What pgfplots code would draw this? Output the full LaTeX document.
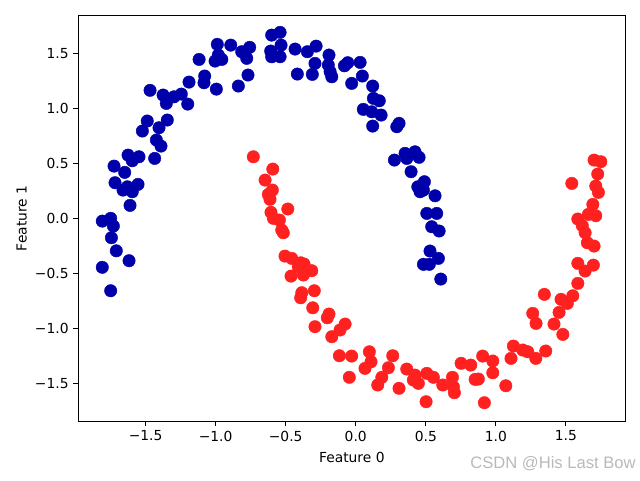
\documentclass[border=0pt]{standalone}
\usepackage{fontspec}
\setmainfont{DejaVu Sans}
\newfontfamily\wmfont{Liberation Sans}
\usepackage{pgfplots}
\pgfplotsset{compat=1.18}
\definecolor{cblue}{HTML}{0000AA}
\definecolor{cred}{HTML}{FF2020}
\begin{document}
\begin{tikzpicture}
\path[use as bounding box] (-56.6pt,-42.6pt) rectangle (405.9pt,304.3pt);
\begin{axis}[
  scale only axis, width=395.3pt, height=292.9pt,
  xmin=-1.980, xmax=1.924, ymin=-1.843, ymax=1.842,
  axis line style={line width=0.8pt},
  tick pos=left, tick align=outside,
  major tick length=3.5pt,
  every tick/.style={black, line width=0.8pt},
  xtick={-1.5,-1,-0.5,0,0.5,1,1.5},
  ytick={-1.5,-1,-0.5,0,0.5,1,1.5},
  xticklabels={−1.5,−1.0,−0.5,0.0,0.5,1.0,1.5},
  yticklabels={−1.5,−1.0,−0.5,0.0,0.5,1.0,1.5},
  ticklabel style={font=\fontsize{10}{12}\selectfont},
  xlabel={Feature 0}, ylabel={Feature 1},
  label style={font=\fontsize{10}{12}\selectfont},
  xlabel style={at={([yshift=-26pt]axis description cs:0.5,0)}, anchor=center},
  ylabel style={at={([xshift=-41pt]axis description cs:0,0.5)}, anchor=center},
  clip=false,
]
\addplot[only marks, mark=*, mark size=4.5pt, mark options={draw=cblue, fill=cblue, line width=0.3pt}] coordinates {
(-0.988,1.582) (-0.892,1.575) (-0.757,1.555) (-0.814,1.515) (-0.778,1.455)
(-0.981,1.485) (-1.004,1.430) (-0.956,1.445) (-1.118,1.445) (-0.769,1.303)
(-0.838,1.203) (-1.078,1.294) (-1.083,1.233) (-0.995,1.175) (-1.190,1.239)
(-1.468,1.164) (-1.375,1.121) (-1.352,1.045) (-1.297,1.105) (-1.245,1.130)
(-1.199,1.039) (-1.345,0.894) (-1.488,0.885) (-1.523,0.794) (-1.404,0.824)
(-1.423,0.712) (-1.390,0.657) (-1.625,0.575) (-1.547,0.560) (-1.435,0.545)
(-1.725,0.475) (-0.600,1.666) (-0.540,1.691) (-0.533,1.575) (-0.607,1.521)
(-0.600,1.469) (-0.540,1.469) (-0.433,1.539) (-0.345,1.515) (-0.283,1.566)
(-0.191,1.485) (-0.291,1.409) (-0.417,1.312) (-0.310,1.309) (-0.196,1.394)
(-0.183,1.333) (-0.171,1.287) (-0.081,1.387) (-0.057,1.415) (0.031,1.418)
(0.047,1.294) (-0.029,1.227) (0.121,1.203) (0.126,1.091) (0.168,1.069)
(0.054,0.991) (0.114,0.969) (0.181,0.939) (0.121,0.839) (0.293,0.833)
(0.309,0.864) (0.276,0.530) (0.352,0.591) (0.364,0.545) (0.423,0.605)
(0.452,0.555) (-1.595,0.524) (-1.649,0.418) (-1.718,0.324) (-1.661,0.257)
(-1.630,0.287) (-1.595,0.242) (-1.554,0.309) (-1.611,0.118) (-1.809,-0.025)
(-1.749,0.000) (-1.730,-0.070) (-1.744,-0.176) (-1.709,-0.295) (-1.618,-0.385)
(-1.809,-0.445) (-1.749,-0.658) (0.395,0.424) (0.490,0.333) (0.443,0.287)
(0.459,0.242) (0.483,0.257) (0.566,0.205) (0.507,0.045) (0.578,0.045)
(0.542,-0.076) (0.595,-0.115) (0.530,-0.297) (0.590,-0.364) (0.483,-0.418)
(0.525,-0.418) (0.607,-0.552)
};
\addplot[only marks, mark=*, mark size=4.5pt, mark options={draw=cred, fill=cred, line width=0.3pt}] coordinates {
(-0.731,0.560) (-0.592,0.448) (-0.647,0.348) (-0.595,0.257) (-0.624,0.218)
(-0.612,0.173) (-0.485,0.085) (-0.605,0.055) (-0.588,0.000) (-0.545,-0.015)
(-0.528,-0.106) (-0.517,-0.131) (-0.505,-0.343) (-0.457,-0.364) (-0.393,-0.404)
(-0.369,-0.415) (-0.410,-0.440) (-0.314,-0.476) (-0.462,-0.525) (-0.374,-0.515)
(-0.296,-0.658) (-0.385,-0.676) (-0.393,-0.722) (-0.307,-0.813) (-0.191,-0.870)
(-0.203,-0.904) (-0.291,-0.985) (-0.076,-0.961) (-0.112,-1.015) (-0.171,-1.076)
(-0.117,-1.249) (-0.029,-1.252) (0.097,-1.213) (0.109,-1.304) (0.066,-1.364)
(-0.046,-1.445) (0.264,-1.249) (0.233,-1.358) (0.186,-1.445) (0.157,-1.515)
(0.309,-1.545) (0.364,-1.370) (0.423,-1.425) (0.411,-1.470) (0.447,-1.500)
(0.507,-1.409) (0.554,-1.445) (0.502,-1.667) (0.621,-1.515) (0.690,-1.445)
(0.697,-1.531) (0.704,-1.585) (0.752,-1.318) (0.821,-1.334) (0.906,-1.252)
(0.978,-1.297) (0.978,-1.404) (0.852,-1.464) (0.875,-1.461) (0.918,-1.676)
(1.585,-0.591) (1.346,-0.691) (1.465,-0.736) (1.549,-0.704) (1.510,-0.773)
(1.451,-0.855) (1.263,-0.864) (1.287,-0.955) (1.415,-0.961) (1.478,-1.055)
(1.125,-1.161) (1.192,-1.197) (1.228,-1.213) (1.356,-1.206) (1.285,-1.273)
(1.108,-1.273) (1.071,-1.522) (1.701,0.530) (1.749,0.515) (1.727,0.403)
(1.542,0.318) (1.713,0.294) (1.732,0.236) (1.692,0.127) (1.660,0.036)
(1.713,0.024) (1.585,-0.006) (1.617,-0.067) (1.637,-0.131) (1.653,-0.222)
(1.701,-0.252) (1.585,-0.409) (1.696,-0.425) (1.637,-0.479)
};
\end{axis}
\node[anchor=east, text=gray!55, font=\wmfont\fontsize{12}{14}\selectfont, inner sep=0pt] at (403pt,-31pt) {CSDN @His Last Bow};
\end{tikzpicture}
\end{document}
